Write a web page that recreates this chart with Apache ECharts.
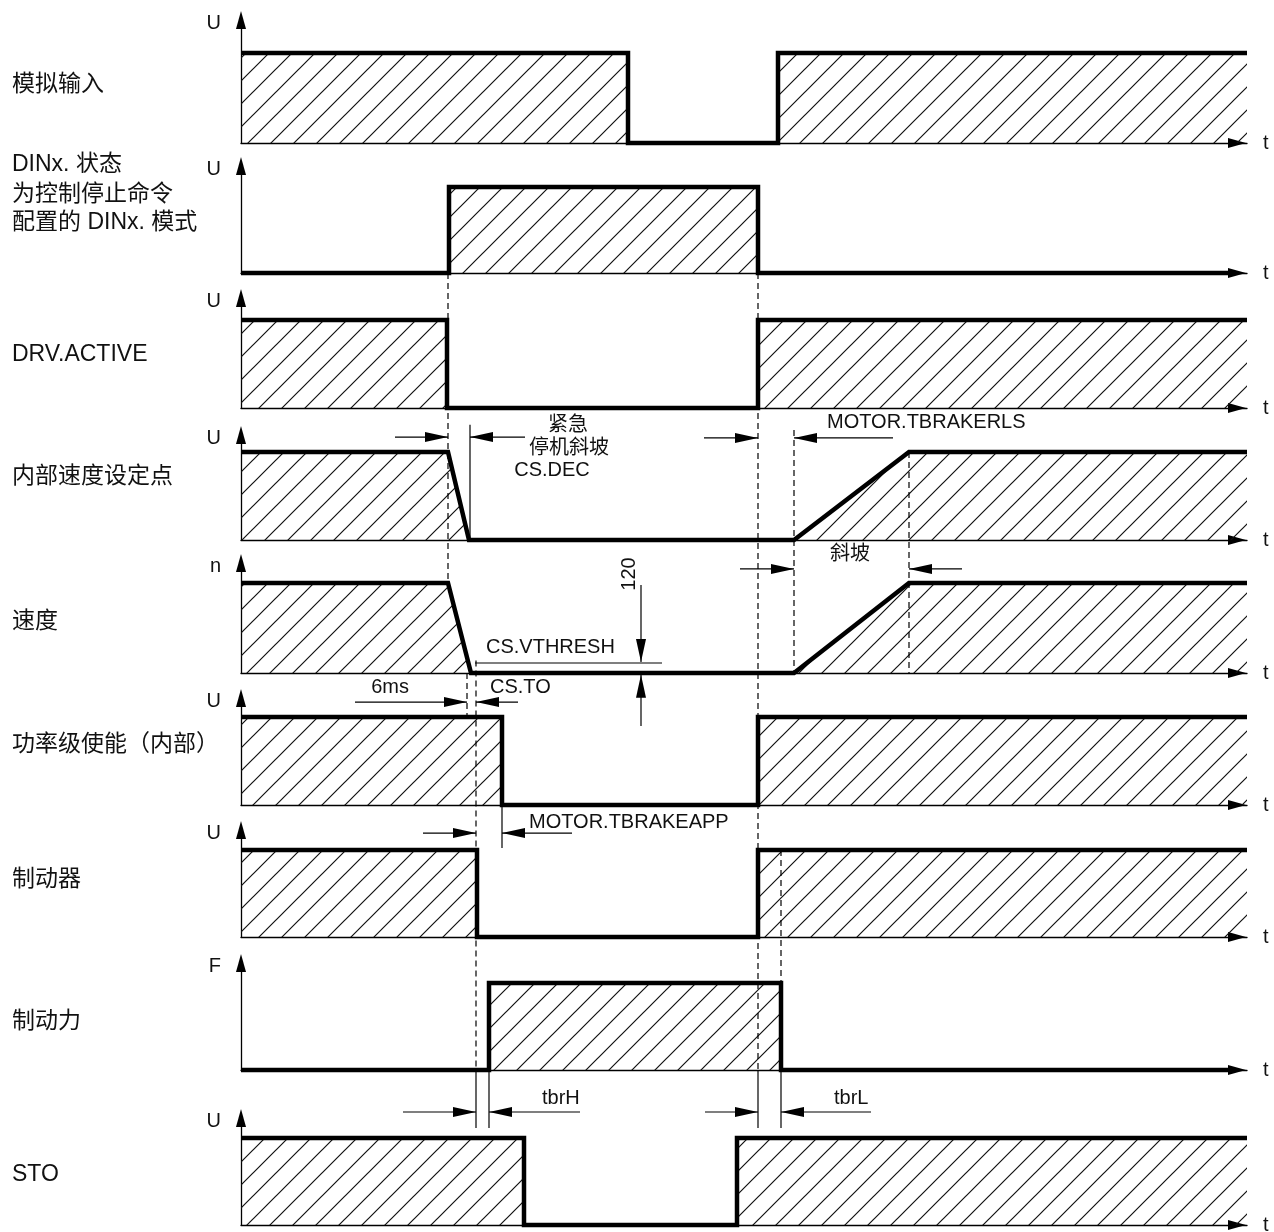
<!DOCTYPE html>
<html>
<head>
<meta charset="utf-8">
<title>控制停止时序图</title>
<script src="https://cdn.jsdelivr.net/npm/echarts@6/dist/echarts.min.js"></script>
<style>
  html, body { margin: 0; padding: 0; background: #fff; }
  #chart { width: 1274px; height: 1232px; }
</style>
</head>
<body>
<div id="chart"></div>
<script>
/* --------------------------------------------------------
 Data: time points [t, level] for each signal (level 0 = low, 1 = high)
 -----------------------------------------------------------*/
var analogIn      = [[0, 1], [387, 1], [387, 0], [537, 0], [537, 1], [1006, 1]];
var dinState      = [[0, 0], [208, 0], [208, 1], [517, 1], [517, 0], [990, 0]];
var drvActive     = [[0, 1], [206, 1], [206, 0], [517, 0], [517, 1], [1006, 1]];
var speedSetpoint = [[0, 1], [207, 1], [228, 0], [553, 0], [668, 1], [1006, 1]];
var speed         = [[0, 1], [207, 1], [230, 0], [553, 0], [668, 1], [1006, 1]];
var powerStage    = [[0, 1], [261, 1], [261, 0], [517, 0], [517, 1], [1006, 1]];
var brake         = [[0, 1], [236, 1], [236, 0], [517, 0], [517, 1], [1006, 1]];
var brakeForce    = [[0, 0], [248, 0], [248, 1], [540, 1], [540, 0], [990, 0]];
var sto           = [[0, 1], [283, 1], [283, 0], [496, 0], [496, 1], [1006, 1]];

var signals = [analogIn, dinState, drvActive, speedSetpoint, speed, powerStage, brake, brakeForce, sto];

var axisUnits = ['U', 'U', 'U', 'U', 'n', 'U', 'U', 'F', 'U'];
var rowLabels = [
  ['模拟输入'],
  ['DINx. 状态', '为控制停止命令', '配置的 DINx. 模式'],
  ['DRV.ACTIVE'],
  ['内部速度设定点'],
  ['速度'],
  ['功率级使能（内部）'],
  ['制动器'],
  ['制动力'],
  ['STO']
];

// key instants (time units)
var tStop = 207, tSetZero = 229, tVZero = 226, tTO = 235, tForceOn = 248, tPower = 261;
var tRestart = 517, tRelease = 553, tRampEnd = 668, tForceOff = 540;

/* --------------------------------------------------------
 Layout (pixels)
 -----------------------------------------------------------*/
var rowTip  = [12, 158, 290, 427, 555, 690, 822, 955, 1110];
var rowHigh = [53, 187, 320, 452, 583, 717, 850, 983, 1138];
var rowBase = [143, 273, 408, 540, 673, 805, 937, 1070, 1225];
var labelY  = [[85], [165, 195, 223], [355], [477], [622], [745], [880], [1022], [1175]];
var AXIS_LEFT = 241, AXIS_END = 1247, T_MAX = 1006;
var FONT = '"Liberation Sans", "Noto Sans CJK SC", sans-serif';

function makeHatch(step) {
  var c = document.createElement('canvas');
  c.width = step;
  c.height = step;
  var ctx = c.getContext('2d');
  ctx.strokeStyle = '#111';
  ctx.lineWidth = 1.2;
  ctx.beginPath();
  ctx.moveTo(-2, step + 2); ctx.lineTo(step + 2, -2);
  ctx.moveTo(-3, 3); ctx.lineTo(3, -3);
  ctx.moveTo(step - 3, step + 3); ctx.lineTo(step + 3, step - 3);
  ctx.stroke();
  return c;
}
var hatch = makeHatch(23);

var chart = echarts.init(document.getElementById('chart'), null, {renderer: 'canvas'});

function axisLine(offsetEnd) {
  return {
    show: true,
    symbol: ['none', 'triangle'],
    symbolSize: [10, 18],
    symbolOffset: [0, offsetEnd],
    lineStyle: {color: '#000', width: 1.3}
  };
}

chart.setOption({
  animation: false,
  backgroundColor: '#fff',
  grid: rowBase.map(function (b, i) {
    var top = rowTip[i] + 8;
    return {left: AXIS_LEFT, right: 1274 - AXIS_END, top: top, height: b - top,
      containLabel: false, outerBoundsMode: 'none'};
  }),
  xAxis: rowBase.map(function (b, i) {
    return {
      type: 'value', gridIndex: i, min: 0, max: T_MAX,
      name: 't', nameLocation: 'end', nameGap: 16,
      nameTextStyle: {color: '#111', fontSize: 20, fontFamily: FONT, verticalAlign: 'middle'},
      axisLine: axisLine(-10), axisTick: {show: false}, axisLabel: {show: false}, splitLine: {show: false}
    };
  }),
  yAxis: rowBase.map(function (b, i) {
    var top = rowTip[i] + 8;
    return {
      type: 'value', gridIndex: i, min: 0, max: (b - top) / (b - rowHigh[i]),
      name: axisUnits[i], nameLocation: 'end', nameGap: -3,
      nameTextStyle: {color: '#111', fontSize: 20, fontFamily: FONT, align: 'right', verticalAlign: 'middle', padding: [0, 20, 0, 0]},
      axisLine: axisLine(0), axisTick: {show: false}, axisLabel: {show: false}, splitLine: {show: false}
    };
  }),
  series: signals.map(function (d, i) {
    return {
      type: 'line', xAxisIndex: i, yAxisIndex: i, data: d,
      symbol: 'none', clip: false, silent: true, z: 3,
      lineStyle: {color: '#000', width: 4.5, cap: 'butt', join: 'miter'},
      areaStyle: {color: {image: hatch, repeat: 'repeat'}, opacity: 1, origin: 'start'}
    };
  })
});

/* --------------------------------------------------------
 Annotations (dashed guides, dimension arrows, texts)
 -----------------------------------------------------------*/
function px(row, t, lvl) {
  return chart.convertToPixel({gridIndex: row}, [t, lvl]);
}

var g = [];

function seg(a, b, dashed) {
  var style = {stroke: '#000', lineWidth: 1.2};
  if (dashed) style.lineDash = [6, 4];
  g.push({type: 'line', z: 50, silent: true, shape: {x1: a[0], y1: a[1], x2: b[0], y2: b[1]}, style: style});
}

function head(tip, from) {
  var dx = tip[0] - from[0], dy = tip[1] - from[1];
  var len = Math.sqrt(dx * dx + dy * dy);
  dx /= len; dy /= len;
  var L = 23, W = 5;
  var bx = tip[0] - dx * L, by = tip[1] - dy * L;
  g.push({type: 'polygon', z: 51, silent: true,
    shape: {points: [[tip[0], tip[1]], [bx - dy * W, by + dx * W], [bx + dy * W, by - dx * W]]},
    style: {fill: '#000'}});
}

function dim(row, lvl, tFrom, tTip) {
  var a = px(row, tFrom, lvl), b = px(row, tTip, lvl);
  seg(a, b, false);
  head(b, a);
}

function text(str, p, align, size, rot) {
  g.push({type: 'text', z: 60, silent: true, x: p[0], y: p[1], rotation: rot || 0,
    style: {text: str, x: 0, y: 0, fill: '#111', fontSize: size || 20, fontFamily: FONT,
      align: align, textAlign: align, verticalAlign: 'middle', textVerticalAlign: 'middle'}});
}

// dashed guide lines
seg(px(1, tStop, 0), px(4, tStop, 1), true);
seg(px(1, tRestart, 0), px(7, tRestart, 0), true);
seg(px(3, tRelease, 1.25), px(4, tRelease, 0), true);
seg(px(3, tRampEnd, 1), px(4, tRampEnd, 0), true);
seg(px(4, tVZero, 0), px(5, tVZero, 1), true);
seg(px(4, tTO, 0.14), px(7, tTO, 0), true);
seg(px(6, tForceOff, 1), px(7, tForceOff, 1), true);

// solid extension lines
seg(px(3, tSetZero, 1.31), px(3, tSetZero, 0), false);
seg(px(5, tPower, 0), px(5, tPower, -0.49), false);
[tTO, tForceOn, tRestart, tForceOff].forEach(function (t) {
  seg(px(7, t, 0), px(7, t, -0.667), false);
});

// CS.DEC
dim(3, 1.17, 154, tStop);
dim(3, 1.17, 284, tSetZero);
// MOTOR.TBRAKERLS
dim(3, 1.16, 463, tRestart);
dim(3, 1.16, 652, tRelease);
// ramp
dim(4, 1.156, 499, tRelease);
dim(4, 1.156, 721, tRampEnd);
// 6ms / CS.TO
dim(5, 1.17, 114, tVZero);
dim(5, 1.17, 277, tTO);
// MOTOR.TBRAKEAPP
dim(6, 1.195, 182, tTO);
dim(6, 1.195, 331, tPower);
// tbrH / tbrL
dim(7, -0.483, 162, tTO);
dim(7, -0.483, 339, tForceOn);
dim(7, -0.483, 464, tRestart);
dim(7, -0.483, 630, tForceOff);

// CS.VTHRESH threshold and 120 vertical dimension
seg(px(4, 234, 0.111), px(4, 421, 0.111), false);
(function () {
  var a = px(4, 400, 0.978), b = px(4, 400, 0.122);
  seg(a, b, false); head(b, a);
  var c = px(4, 400, -0.59), d = px(4, 400, -0.02);
  seg(c, d, false); head(d, c);
})();

text('紧急', px(3, 327, 1.30), 'center');
text('停机斜坡', px(3, 328, 1.04), 'center');
text('CS.DEC', px(3, 311, 0.795), 'center');
text('MOTOR.TBRAKERLS', px(3, 586, 1.33), 'left');
text('斜坡', px(4, 609, 1.32), 'center');
text('120', px(4, 388, 1.1), 'center', 20, Math.PI / 2);
text('CS.VTHRESH', px(4, 245, 0.278), 'left');
text('6ms', px(5, 168, 1.33), 'right');
text('CS.TO', px(5, 249, 1.33), 'left');
text('MOTOR.TBRAKEAPP', px(6, 288, 1.32), 'left');
text('tbrH', px(7, 301, -0.333), 'left');
text('tbrL', px(7, 593, -0.333), 'left');

// row titles on the left
rowLabels.forEach(function (lines, i) {
  lines.forEach(function (s, k) {
    text(s, [12, labelY[i][k]], 'left', 23);
  });
});

chart.setOption({graphic: {elements: g}});

window.addEventListener('resize', function () {
  if (chart != null && chart != undefined) {
    chart.resize();
  }
});
</script>
</body>
</html>
